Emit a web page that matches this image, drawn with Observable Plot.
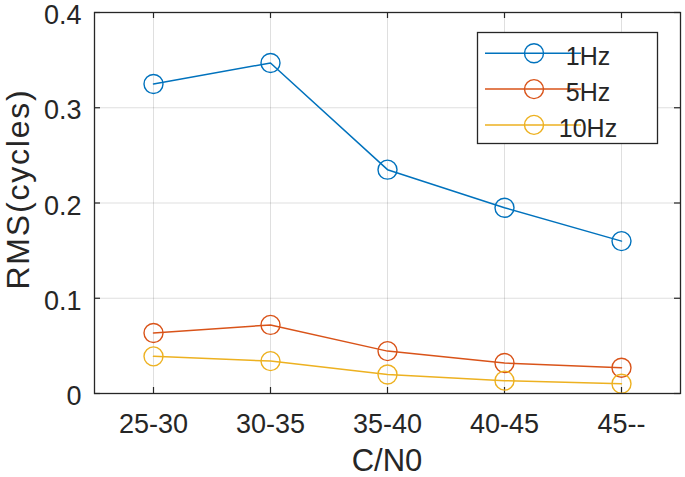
<!DOCTYPE html>
<html><head><meta charset="utf-8">
<script src="https://cdn.jsdelivr.net/npm/d3@7"></script>
<script src="https://cdn.jsdelivr.net/npm/@observablehq/plot@0.6"></script>
<style>body{margin:0;background:#fff;}</style>
</head><body><div id="chart"></div>
<script>
const categories = ["25-30", "30-35", "35-40", "40-45", "45--"];
const seriesNames = ["1Hz", "5Hz", "10Hz"];
const values1Hz = [0.325, 0.347, 0.235, 0.195, 0.160];
const values5Hz = [0.0635, 0.072, 0.0445, 0.032, 0.027];
const values10Hz = [0.039, 0.034, 0.020, 0.0135, 0.0102];
const colors = ["#0072BD", "#D95319", "#EDB120"];
const yTicks = [0, 0.1, 0.2, 0.3, 0.4];
const xLabel = "C/N0";
const yLabel = "RMS(cycles)";

const rows = [];
[values1Hz, values5Hz, values10Hz].forEach((vals, i) =>
  vals.forEach((v, j) => rows.push({series: seriesNames[i], cat: categories[j], value: v})));

const W = 685, H = 477, mL = 94, mR = 5, mT = 12, mB = 84;
const innerW = W - mL - mR, innerH = H - mT - mB;
const tk = 6;
const ink = "#262626";

const plot = Plot.plot({
  width: W, height: H,
  marginLeft: mL, marginRight: mR, marginTop: mT, marginBottom: mB,
  style: {fontFamily: "'Liberation Sans', Arial, sans-serif", color: ink, background: "white"},
  x: {type: "point", domain: categories, padding: 0.5, label: null},
  y: {domain: [0, 0.4], label: null},
  color: {domain: seriesNames, range: colors},
  marks: [
    Plot.gridX(categories, {stroke: ink, strokeOpacity: 0.15, strokeWidth: 1}),
    Plot.gridY(yTicks, {stroke: ink, strokeOpacity: 0.15, strokeWidth: 1}),
    Plot.ruleX(categories, {x: d => d, insetTop: innerH - tk, stroke: ink, strokeWidth: 1.2}),
    Plot.ruleX(categories, {x: d => d, insetBottom: innerH - tk, stroke: ink, strokeWidth: 1.2}),
    Plot.ruleY(yTicks, {y: d => d, insetRight: innerW - tk, stroke: ink, strokeWidth: 1.2}),
    Plot.ruleY(yTicks, {y: d => d, insetLeft: innerW - tk, stroke: ink, strokeWidth: 1.2}),
    Plot.axisX({tickSize: 0, tickPadding: 20, fontSize: 27, fill: ink}),
    Plot.axisY(yTicks, {tickSize: 0, tickPadding: 13, fontSize: 27, fill: ink, dy: 3, tickFormat: d => String(d)}),
    Plot.line(rows, {x: "cat", y: "value", z: "series", stroke: "series", strokeWidth: 1.5}),
    Plot.dot(rows, {x: "cat", y: "value", stroke: "series", r: 9.5, strokeWidth: 1.4}),
    Plot.frame({stroke: ink, strokeWidth: 1.3})
  ]
});

const svg = d3.select(plot);
// axis labels
svg.append("text").attr("x", mL + innerW / 2).attr("y", 471)
  .attr("text-anchor", "middle").attr("font-size", 31).attr("fill", ink)
  .attr("font-family", "'Liberation Sans', Arial, sans-serif").text(xLabel);
svg.append("text").attr("transform", "translate(28.5,189) rotate(-90)")
  .attr("text-anchor", "middle").attr("font-size", 32).attr("letter-spacing", 1.8).attr("fill", ink)
  .attr("font-family", "'Liberation Sans', Arial, sans-serif").text(yLabel);

// legend
const lg = svg.append("g").attr("font-family", "'Liberation Sans', Arial, sans-serif");
lg.append("rect").attr("x", 477.5).attr("y", 32.5).attr("width", 180).attr("height", 111)
  .attr("fill", "white").attr("stroke", ink).attr("stroke-width", 1.3);
seriesNames.forEach((s, i) => {
  const y = 53.3 + i * 35.8;
  lg.append("line").attr("x1", 485).attr("x2", 581).attr("y1", y).attr("y2", y)
    .attr("stroke", colors[i]).attr("stroke-width", 1.5);
  lg.append("circle").attr("cx", 534).attr("cy", y).attr("r", 9.5)
    .attr("fill", "none").attr("stroke", colors[i]).attr("stroke-width", 1.4);
  lg.append("text").attr("x", 588).attr("y", y + 11.7).attr("font-size", 25).attr("fill", ink).text(s);
});

document.getElementById("chart").appendChild(plot);
</script>
</body></html>
